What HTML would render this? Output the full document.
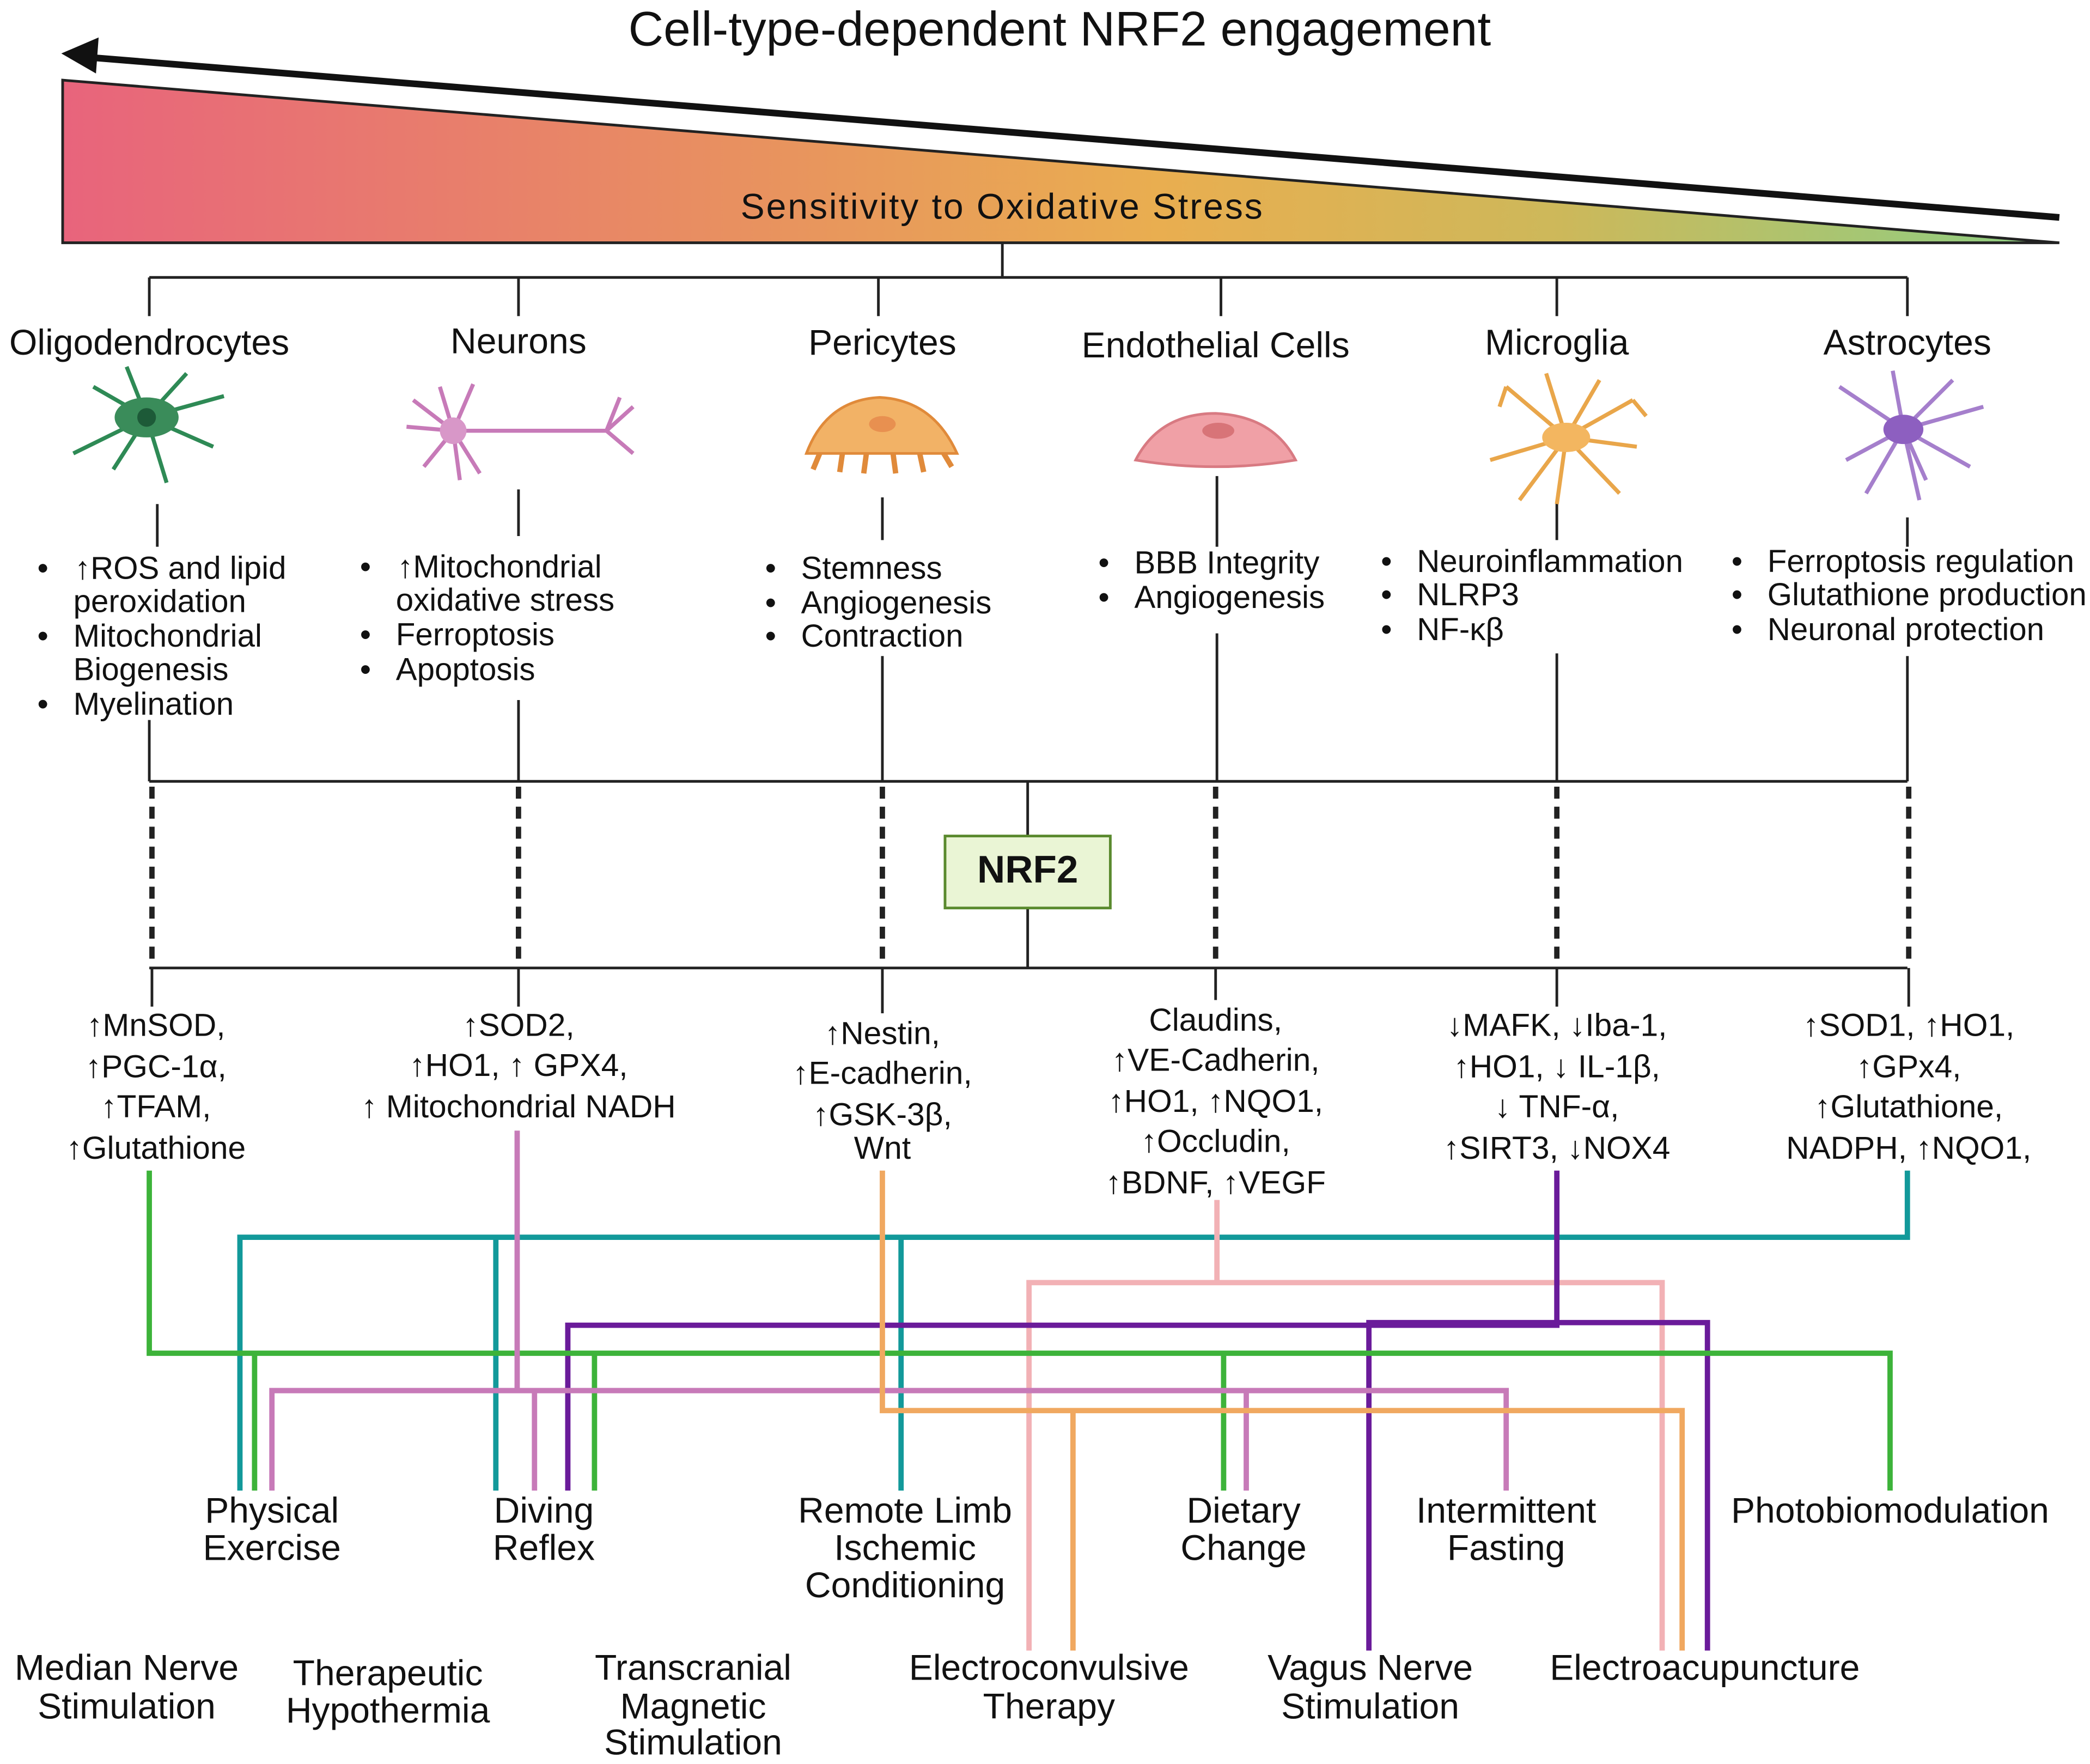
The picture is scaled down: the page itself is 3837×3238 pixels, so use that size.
<!DOCTYPE html>
<html><head><meta charset="utf-8"><style>
html,body{margin:0;padding:0;background:#fff}
svg{display:block}
text{font-family:"Liberation Sans",sans-serif;fill:#111}
</style></head><body>
<svg width="3837" height="3238" viewBox="0 0 1568 1323" xmlns="http://www.w3.org/2000/svg">
<defs>
<linearGradient id="g" x1="0" x2="1" y1="0" y2="0">
<stop offset="0" stop-color="#e8647c"/>
<stop offset="0.35" stop-color="#e8925f"/>
<stop offset="0.55" stop-color="#e9ae50"/>
<stop offset="0.75" stop-color="#cdb85a"/>
<stop offset="1" stop-color="#8ccf84"/>
</linearGradient>
</defs>
<text x="795" y="34" font-size="36.5" text-anchor="middle">Cell-type-dependent NRF2 engagement</text>
<line x1="68" y1="43" x2="1545" y2="163" stroke="#111" stroke-width="5"/>
<polygon points="46,40 74,28 72,55" fill="#111"/>
<polygon points="47,60 1545,182 47,182" fill="url(#g)" stroke="#222" stroke-width="2"/>
<text x="752" y="164" font-size="27" letter-spacing="1.2" text-anchor="middle">Sensitivity to Oxidative Stress</text>

<g stroke="#222" stroke-width="2" fill="none">
<path d="M752 182V208M112 208H1431M112 208V237M389 208V237M659 208V237M916 208V237M1168 208V237M1431 208V237"/>
<path d="M118 378V410M389 367V402M662 373V405M913 357V410M1168 375V405M1431 388V410"/>
<path d="M112 540V586M389 525V586M662 492V586M913 475V586M1168 490V586M1431 492V586"/>
<path d="M112 586H1431M112 726H1431M771 586V627M771 681V726"/>
<path d="M114 726V755M389 726V755M662 726V760M912 726V750M1168 726V755M1432 726V755"/>
</g>
<g stroke="#222" stroke-width="4" stroke-dasharray="9,6">
<path d="M114 590V722M389 590V722M662 590V722M912 590V722M1168 590V722M1432 590V722"/>
</g>
<rect x="709" y="627" width="124" height="54" fill="#eaf5d5" stroke="#5a8a2e" stroke-width="2"/>
<text x="771" y="662" font-size="29" font-weight="bold" text-anchor="middle">NRF2</text>

<g font-size="27" text-anchor="middle">
<text x="112" y="266">Oligodendrocytes</text>
<text x="389" y="265">Neurons</text>
<text x="662" y="266">Pericytes</text>
<text x="912" y="268">Endothelial Cells</text>
<text x="1168" y="266">Microglia</text>
<text x="1431" y="266">Astrocytes</text>
</g>

<g stroke="#2e8a55" stroke-width="3" fill="none">
<path d="M110 313L70 290M110 313L55 340M110 313L125 362M110 313L168 297M110 313L160 335M110 313L95 275M110 313L140 280M110 313L85 352"/>
</g>
<ellipse cx="110" cy="313" rx="24" ry="15" fill="#3a8c5a"/><circle cx="110" cy="313" r="7" fill="#1d5a38"/>
<g stroke="#c77ab8" stroke-width="3" fill="none">
<path d="M340 323H455M455 323L475 305M455 323L475 340M455 323L465 298M340 323L310 300M340 323L305 320M340 323L318 350M340 323L330 290M340 323L355 288M340 323L360 355M340 323L345 360"/>
</g>
<circle cx="340" cy="323" r="10" fill="#d897c8"/>
<path d="M605 340Q620 300 660 298Q700 300 718 340Z" fill="#f2b266" stroke="#e08a3a" stroke-width="2"/>
<g stroke="#e08a3a" stroke-width="4"><path d="M615 340L610 352M632 340L630 354M650 340L648 355M670 340L672 355M690 340L693 354M708 340L714 350"/></g>
<ellipse cx="662" cy="318" rx="10" ry="6" fill="#e89050"/>
<path d="M852 345Q870 310 912 310Q955 312 972 345Q912 355 852 345Z" fill="#f0a0a6" stroke="#d87a82" stroke-width="2"/>
<ellipse cx="914" cy="323" rx="12" ry="6" fill="#d87478"/>
<g stroke="#e9a64a" stroke-width="3" fill="none">
<path d="M1175 328L1130 290M1175 328L1118 345M1175 328L1140 375M1175 328L1168 378M1175 328L1215 370M1175 328L1228 335M1175 328L1225 300M1175 328L1200 285M1175 328L1160 280M1130 290L1125 305M1225 300L1235 312"/>
</g>
<ellipse cx="1175" cy="328" rx="18" ry="11" fill="#f3b660"/>
<g stroke="#a57fcc" stroke-width="3" fill="none">
<path d="M1428 322L1380 290M1428 322L1385 345M1428 322L1400 370M1428 322L1440 375M1428 322L1478 350M1428 322L1488 305M1428 322L1465 285M1428 322L1420 278M1428 322L1445 360"/>
</g>
<ellipse cx="1428" cy="322" rx="15" ry="11" fill="#8d5fc0"/>

<g font-size="23.8">
<g><text x="28" y="434">•</text><text x="56" y="434">↑ROS and lipid</text><text x="55" y="459">peroxidation</text><text x="28" y="485">•</text><text x="55" y="485">Mitochondrial</text><text x="55" y="510">Biogenesis</text><text x="28" y="536">•</text><text x="55" y="536">Myelination</text></g>
<g><text x="270" y="433">•</text><text x="298" y="433">↑Mitochondrial</text><text x="297" y="458">oxidative stress</text><text x="270" y="484">•</text><text x="297" y="484">Ferroptosis</text><text x="270" y="510">•</text><text x="297" y="510">Apoptosis</text></g>
<g><text x="574" y="434">•</text><text x="601" y="434">Stemness</text><text x="574" y="460">•</text><text x="601" y="460">Angiogenesis</text><text x="574" y="485">•</text><text x="601" y="485">Contraction</text></g>
<g><text x="824" y="430">•</text><text x="851" y="430">BBB Integrity</text><text x="824" y="456">•</text><text x="851" y="456">Angiogenesis</text></g>
<g><text x="1036" y="429">•</text><text x="1063" y="429">Neuroinflammation</text><text x="1036" y="454">•</text><text x="1063" y="454">NLRP3</text><text x="1036" y="480">•</text><text x="1063" y="480">NF-κβ</text></g>
<g><text x="1299" y="429">•</text><text x="1326" y="429">Ferroptosis regulation</text><text x="1299" y="454">•</text><text x="1326" y="454">Glutathione production</text><text x="1299" y="480">•</text><text x="1326" y="480">Neuronal protection</text></g>
</g>

<g font-size="24" text-anchor="middle">
<text x="117" y="777">↑MnSOD,</text><text x="117" y="808">↑PGC-1α,</text><text x="117" y="838">↑TFAM,</text><text x="117" y="869">↑Glutathione</text>
<text x="389" y="777">↑SOD2,</text><text x="389" y="807">↑HO1, ↑ GPX4,</text><text x="389" y="838">↑ Mitochondrial NADH</text>
<text x="662" y="783">↑Nestin,</text><text x="662" y="813">↑E-cadherin,</text><text x="662" y="844">↑GSK-3β,</text><text x="662" y="869">Wnt</text>
<text x="912" y="773">Claudins,</text><text x="912" y="803">↑VE-Cadherin,</text><text x="912" y="834">↑HO1, ↑NQO1,</text><text x="912" y="864">↑Occludin,</text><text x="912" y="895">↑BDNF, ↑VEGF</text>
<text x="1168" y="777">↓MAFK, ↓Iba-1,</text><text x="1168" y="808">↑HO1, ↓ IL-1β,</text><text x="1168" y="838">↓ TNF-α,</text><text x="1168" y="869">↑SIRT3, ↓NOX4</text>
<text x="1432" y="777">↑SOD1, ↑HO1,</text><text x="1432" y="808">↑GPx4,</text><text x="1432" y="838">↑Glutathione,</text><text x="1432" y="869">NADPH, ↑NQO1,</text>
</g>

<g fill="none" stroke-width="4">
<path stroke="#12999a" d="M1431 878V928H180V1118M372 928V1118M676 928V1118"/>
<path stroke="#f2b1b5" d="M913 900V962H772V1238M913 962H1247V1238"/>
<path stroke="#6a1b9a" d="M1168 878V994H426V1118M1027 1238V992H1281V1238"/>
<path stroke="#3db33a" d="M112 878V1015H1418V1118M191 1015V1118M446 1015V1118M918 1015V1118"/>
<path stroke="#c77ab8" d="M388 848V1043M204 1118V1043H1130V1118M401 1043V1118M935 1043V1118"/>
<path stroke="#f0a860" d="M662 878V1058H1262V1238M805 1058V1238"/>
</g>

<g font-size="27" text-anchor="middle">
<text x="204" y="1142">Physical</text><text x="204" y="1170">Exercise</text>
<text x="408" y="1142">Diving</text><text x="408" y="1170">Reflex</text>
<text x="679" y="1142">Remote Limb</text><text x="679" y="1170">Ischemic</text><text x="679" y="1198">Conditioning</text>
<text x="933" y="1142">Dietary</text><text x="933" y="1170">Change</text>
<text x="1130" y="1142">Intermittent</text><text x="1130" y="1170">Fasting</text>
<text x="1418" y="1142">Photobiomodulation</text>
<text x="95" y="1260">Median Nerve</text><text x="95" y="1289">Stimulation</text>
<text x="291" y="1264">Therapeutic</text><text x="291" y="1292">Hypothermia</text>
<text x="520" y="1260">Transcranial</text><text x="520" y="1289">Magnetic</text><text x="520" y="1316">Stimulation</text>
<text x="787" y="1260">Electroconvulsive</text><text x="787" y="1289">Therapy</text>
<text x="1028" y="1260">Vagus Nerve</text><text x="1028" y="1289">Stimulation</text>
<text x="1279" y="1260">Electroacupuncture</text>
</g>
</svg>
</body></html>
